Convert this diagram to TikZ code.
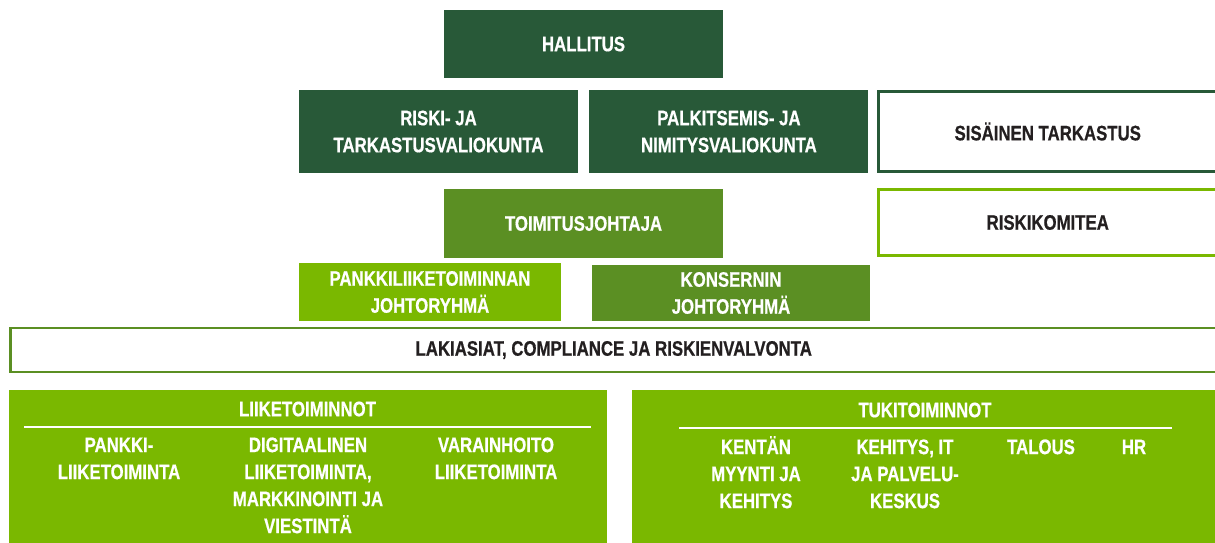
\documentclass[tikz,border=0pt]{standalone}
\usepackage{fontspec}
\setmainfont{Liberation Sans}[FakeStretch=0.8, BoldFeatures={FakeBold=0.6}]
\usetikzlibrary{positioning}
\definecolor{boardgreen}{RGB}{40,89,56}
\definecolor{leafgreen}{RGB}{91,143,35}
\definecolor{limegreen}{RGB}{122,184,0}
\definecolor{inktext}{RGB}{35,31,32}
\tikzset{
  org box/.style = {
    shape = rectangle,
    align = center,
    fill  = #1,
    text  = white,
    inner sep = 0pt,
    minimum width = 279pt,
    minimum height = 68pt},
  open box/.style = {
    shape = rectangle,
    align = center,
    draw  = #1,
    fill  = white,
    text  = inktext,
    line width = 3pt,
    inner sep = 0pt},
  unit text/.style = {align = center, text = white, anchor = north, inner sep = 0pt}
}

\begin{document}
\begin{tikzpicture}[x = 1pt, y = -1pt, nodes = {font = \bfseries\fontsize{21}{27}\selectfont}]
  \useasboundingbox (0,0) rectangle (1215,543);
  % board and committees
  \node[org box = boardgreen] (board) at (583.5,44) {HALLITUS};
  \node[org box = boardgreen, minimum height = 83pt] (audit) at (438.5,131.5) {RISKI- JA\\TARKASTUSVALIOKUNTA};
  \node[org box = boardgreen, minimum height = 83pt, right = 11pt of audit] (reward) {PALKITSEMIS- JA\\NIMITYSVALIOKUNTA};
  \node[open box = boardgreen, minimum width = 338.5pt, minimum height = 80pt] (internal) at (1047.75,131.5) {SISÄINEN TARKASTUS};
  % management
  \node[org box = leafgreen, minimum height = 69pt] (ceo) at (583.5,223.5) {TOIMITUSJOHTAJA};
  \node[open box = limegreen, minimum width = 338.5pt, minimum height = 66pt] (riskcom) at (1047.75,222.5) {RISKIKOMITEA};
  \node[org box = limegreen, minimum width = 262pt, minimum height = 58pt] (bankmgmt) at (430,292) {PANKKILIIKETOIMINNAN\\JOHTORYHMÄ};
  \node[org box = leafgreen, minimum width = 278pt, minimum height = 56pt] (groupmgmt) at (731,293) {KONSERNIN\\JOHTORYHMÄ};
  \node[open box = leafgreen, line width = 2.5pt, minimum width = 1206.5pt, minimum height = 44pt] (legal) at (613.75,350) {LAKIASIAT, COMPLIANCE JA RISKIENVALVONTA};
  % business lines
  \node[org box = limegreen, minimum width = 598pt, minimum height = 155pt] (business) at (308,467.5) {};
  \node[text = white] (businesstitle) at (307.5,409) {LIIKETOIMINNOT};
  \draw[white, line width = 1.5pt] (24,427) -- (591,427);
  \node[unit text] (banking) at (119,433) {\strut PANKKI-\\LIIKETOIMINTA};
  \node[unit text] (digital) at (308,433) {\strut DIGITAALINEN\\LIIKETOIMINTA,\\MARKKINOINTI JA\\VIESTINTÄ};
  \node[unit text] (wealth) at (496,433) {\strut VARAINHOITO\\LIIKETOIMINTA};
  % support functions
  \node[org box = limegreen, minimum width = 585pt, minimum height = 155pt] (support) at (924.5,467.5) {};
  \node[text = white] (supporttitle) at (925,410) {TUKITOIMINNOT};
  \draw[white, line width = 1.5pt] (679,428) -- (1172,428);
  \node[unit text] (sales) at (756,435) {\strut KENTÄN\\MYYNTI JA\\KEHITYS};
  \node[unit text] (itdev) at (905,435) {\strut KEHITYS, IT\\JA PALVELU-\\KESKUS};
  \node[unit text] (finance) at (1041,435) {\strut TALOUS};
  \node[unit text] (hr) at (1134,435) {\strut HR};
\end{tikzpicture}
\end{document}
